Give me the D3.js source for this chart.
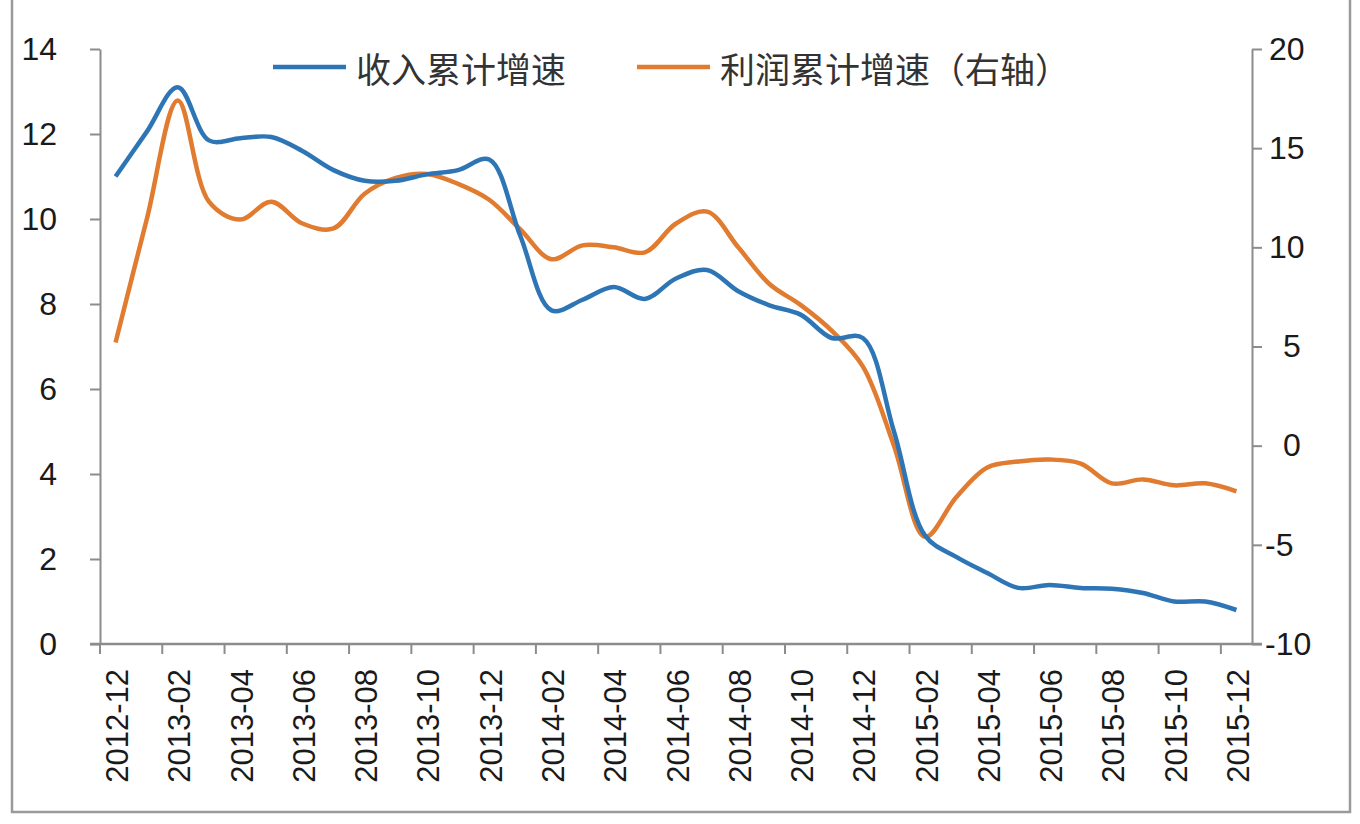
<!DOCTYPE html>
<html>
<head>
<meta charset="utf-8">
<script src="https://cdn.jsdelivr.net/npm/d3@7"></script>
<style>
  html, body { margin: 0; padding: 0; background: #ffffff; }
  svg { display: block; }
</style>
</head>
<body>
<svg id="chart" width="1360" height="824"></svg>
<script>
// ---------- data ----------
const categories = [
  "2012-12","2013-01","2013-02","2013-03","2013-04","2013-05","2013-06","2013-07","2013-08","2013-09","2013-10","2013-11",
  "2013-12","2014-01","2014-02","2014-03","2014-04","2014-05","2014-06","2014-07","2014-08","2014-09","2014-10","2014-11",
  "2014-12","2015-01","2015-02","2015-03","2015-04","2015-05","2015-06","2015-07","2015-08","2015-09","2015-10","2015-11",
  "2015-12"
];
// 收入累计增速 (left axis)
const revenueGrowth = [
  11.0, 12.05, 13.1, 11.85, 11.9, 11.93, 11.6, 11.15, 10.9, 10.9, 11.05, 11.15,
  11.4, 9.6, 7.85, 8.1, 8.4, 8.12, 8.6, 8.8, 8.3, 7.97, 7.75, 7.2,
  7.2, 5.0, 2.55, 2.05, 1.67, 1.32, 1.39, 1.32, 1.3, 1.2, 1.0, 1.0,
  0.8
];
// 利润累计增速 (right axis)
const profitGrowth = [
  5.2, 11.4, 17.4, 12.3, 11.4, 12.3, 11.2, 10.95, 12.7, 13.5, 13.7, 13.2,
  12.4, 10.9, 9.4, 10.1, 10.0, 9.75, 11.2, 11.8, 10.0, 8.15, 7.1, 5.8,
  4.0, 0.0, -4.6, -2.6, -1.1, -0.8, -0.7, -0.9, -1.9, -1.7, -2.0, -1.9,
  -2.3
];
const leftTicks = [0, 2, 4, 6, 8, 10, 12, 14];
const rightTicks = [-10, -5, 0, 5, 10, 15, 20];
const seriesNames = ["收入累计增速", "利润累计增速（右轴）"];
const seriesColors = ["#2E75B6", "#E07B2F"];

// ---------- layout ----------
const svg = d3.select("#chart");
const plotLeft = 100, plotRight = 1252, plotTop = 49, plotBottom = 644;
const axisColor = "#8c8c8c";
const textColor = "#1a1a1a";

// outer frame
svg.append("rect")
  .attr("x", 12).attr("y", -5)
  .attr("width", 1338).attr("height", 817)
  .attr("fill", "none").attr("stroke", "#9a9a9a").attr("stroke-width", 2.5);

const x = d3.scaleBand().domain(categories).range([plotLeft, plotRight]).padding(0);
const xc = d => x(d) + x.bandwidth() / 2;
const yL = d3.scaleLinear().domain([0, 14]).range([plotBottom, plotTop]);
const yR = d3.scaleLinear().domain([-10, 20]).range([plotBottom, plotTop]);

// left axis
const leftAxis = d3.axisLeft(yL).tickValues(leftTicks).tickFormat(d => String(d))
  .tickSize(10).tickSizeOuter(0).tickPadding(33);
const gL = svg.append("g").attr("transform", `translate(${plotLeft},0)`).call(leftAxis);
gL.select(".domain").attr("stroke", axisColor).attr("stroke-width", 2);
gL.selectAll(".tick line").attr("stroke", axisColor).attr("stroke-width", 2);
gL.selectAll(".tick text")
  .attr("font-family", "'Liberation Sans', Arial, sans-serif")
  .attr("font-size", 32).attr("fill", textColor);

// right axis
const rightAxis = d3.axisRight(yR).tickValues(rightTicks).tickFormat(d => String(d))
  .tickSize(10).tickSizeOuter(0).tickPadding(12);
const gR = svg.append("g").attr("transform", `translate(${plotRight},0)`).call(rightAxis);
gR.select(".domain").attr("stroke", axisColor).attr("stroke-width", 2);
gR.selectAll(".tick line").attr("stroke", axisColor).attr("stroke-width", 2);
gR.selectAll(".tick text")
  .attr("font-family", "'Liberation Sans', Arial, sans-serif")
  .attr("font-size", 32).attr("fill", textColor)
  .attr("text-anchor", "start")
  .attr("x", d => (d < 0 ? 13 : (d < 10 ? 31 : 17)));

// x axis
const tickCats = categories.filter((d, i) => i % 2 === 0);
const gX = svg.append("g").attr("transform", `translate(0,${plotBottom})`);
gX.append("line")
  .attr("x1", plotLeft - 10).attr("x2", plotRight + 10)
  .attr("y1", 0).attr("y2", 0)
  .attr("stroke", axisColor).attr("stroke-width", 2.5);
gX.selectAll("line.tk").data(tickCats).join("line")
  .attr("class", "tk")
  .attr("x1", d => x(d)).attr("x2", d => x(d))
  .attr("y1", 0).attr("y2", 10)
  .attr("stroke", axisColor).attr("stroke-width", 2);
gX.selectAll("text").data(tickCats).join("text")
  .attr("transform", d => `translate(${xc(d) + 2},25) rotate(-90)`)
  .attr("text-anchor", "end")
  .attr("dominant-baseline", "central")
  .attr("font-family", "'Liberation Sans', Arial, sans-serif")
  .attr("font-size", 31)
  .attr("fill", textColor)
  .text(d => d);

// lines
const lineL = d3.line().x((d, i) => xc(categories[i])).y(d => yL(d)).curve(d3.curveCatmullRom.alpha(0.5));
const lineR = d3.line().x((d, i) => xc(categories[i])).y(d => yR(d)).curve(d3.curveCatmullRom.alpha(0.5));

svg.append("path").datum(profitGrowth)
  .attr("d", lineR).attr("fill", "none")
  .attr("stroke", seriesColors[1]).attr("stroke-width", 4.5)
  .attr("stroke-linejoin", "round").attr("stroke-linecap", "butt");
svg.append("path").datum(revenueGrowth)
  .attr("d", lineL).attr("fill", "none")
  .attr("stroke", seriesColors[0]).attr("stroke-width", 4.5)
  .attr("stroke-linejoin", "round").attr("stroke-linecap", "butt");

// legend
const legendItems = [
  { name: seriesNames[0], color: seriesColors[0], x: 273 },
  { name: seriesNames[1], color: seriesColors[1], x: 637 }
];
const lg = svg.append("g");
legendItems.forEach(it => {
  lg.append("line")
    .attr("x1", it.x).attr("x2", it.x + 73)
    .attr("y1", 67).attr("y2", 67)
    .attr("stroke", it.color).attr("stroke-width", 4.5);
  lg.append("text")
    .attr("x", it.x + 83).attr("y", 67)
    .attr("dominant-baseline", "central")
    .attr("font-family", "'Noto Sans CJK SC', sans-serif")
    .attr("font-size", 35)
    .attr("fill", "#333")
    .text(it.name);
});
</script>
</body>
</html>
